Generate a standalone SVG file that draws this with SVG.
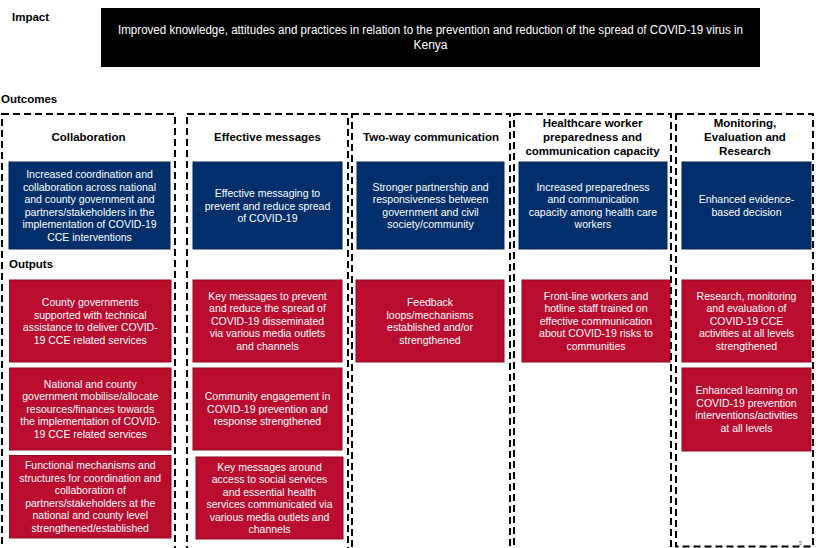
<svg xmlns="http://www.w3.org/2000/svg" width="818" height="548" viewBox="0 0 818 548">
  <style>
    .label { font-family: "Liberation Sans", Arial, sans-serif; font-weight: bold; font-size: 11.5px; fill: #000; }
    .head { font-family: "Liberation Sans", Arial, sans-serif; font-weight: bold; font-size: 11.5px; fill: #000; text-anchor: middle; }
    .txt { font-family: "Liberation Sans", Arial, sans-serif; font-size: 10.5px; fill: #fff; text-anchor: middle; }
    .impact-txt { font-family: "Liberation Sans", Arial, sans-serif; font-size: 12px; fill: #fff; text-anchor: middle; }
    .col { fill: none; stroke: #000; stroke-width: 2; stroke-dasharray: 7 4; }
    .outcome { fill: #002F6C; stroke: #0B2550; stroke-width: 1; }
    .output { fill: #BA0C2F; stroke: #8C0A24; stroke-width: 1; }
  </style>

  <rect width="818" height="548" fill="#fff"/>

  <!-- Section labels -->
  <text class="label" x="12" y="21">Impact</text>
  <text class="label" x="1" y="103">Outcomes</text>
  <text class="label" x="9" y="268">Outputs</text>

  <!-- Impact statement -->
  <g id="impact">
    <rect x="101" y="8" width="659" height="59" fill="#000"/>
    <text class="impact-txt" x="430.5" y="34" textLength="625" lengthAdjust="spacingAndGlyphs">Improved knowledge, attitudes and practices in relation to the prevention and reduction of the spread of COVID-19 virus in</text>
    <text class="impact-txt" x="430.5" y="49">Kenya</text>
  </g>

  <!-- Dashed column frames -->
  <g id="columns">
    <rect class="col" x="2" y="114" width="173" height="460"/>
    <rect class="col" x="187" y="114" width="161" height="460"/>
    <rect class="col" x="352" y="114" width="158" height="460"/>
    <rect class="col" x="514" y="114" width="157" height="460"/>
    <rect class="col" x="676" y="114" width="137" height="432.5"/>
  </g>

  <!-- Column headings -->
  <g id="headings">
    <text class="head" x="88.5" y="140.5">Collaboration</text>
    <text class="head" x="267.5" y="140.5">Effective messages</text>
    <text class="head" x="431" y="140.5">Two-way communication</text>
    <text class="head" x="592.5" y="127">Healthcare worker</text>
    <text class="head" x="592.5" y="141">preparedness and</text>
    <text class="head" x="592.5" y="155">communication capacity</text>
    <text class="head" x="745" y="127">Monitoring,</text>
    <text class="head" x="745" y="141">Evaluation and</text>
    <text class="head" x="745" y="155">Research</text>
  </g>

  <!-- Outcomes -->
  <g id="outcome-collaboration">
    <rect class="outcome" x="9" y="162" width="161" height="87"/>
    <text class="txt" x="89.5" y="178">Increased coordination and</text>
    <text class="txt" x="89.5" y="190.5">collaboration across national</text>
    <text class="txt" x="89.5" y="203">and county government and</text>
    <text class="txt" x="89.5" y="215.5">partners/stakeholders in the</text>
    <text class="txt" x="89.5" y="228">implementation of COVID-19</text>
    <text class="txt" x="89.5" y="240.5">CCE interventions</text>
  </g>
  <g id="outcome-messages">
    <rect class="outcome" x="193" y="162" width="149" height="87"/>
    <text class="txt" x="267.5" y="197.3">Effective messaging to</text>
    <text class="txt" x="267.5" y="209.8">prevent and reduce spread</text>
    <text class="txt" x="267.5" y="222.3">of COVID-19</text>
  </g>
  <g id="outcome-twoway">
    <rect class="outcome" x="357" y="162" width="147" height="87"/>
    <text class="txt" x="430.5" y="190.5">Stronger partnership and</text>
    <text class="txt" x="430.5" y="203">responsiveness between</text>
    <text class="txt" x="430.5" y="215.5">government and civil</text>
    <text class="txt" x="430.5" y="228">society/community</text>
  </g>
  <g id="outcome-healthcare">
    <rect class="outcome" x="519" y="162" width="148" height="87"/>
    <text class="txt" x="593" y="190.5">Increased preparedness</text>
    <text class="txt" x="593" y="203">and communication</text>
    <text class="txt" x="593" y="215.5">capacity among health care</text>
    <text class="txt" x="593" y="228">workers</text>
  </g>
  <g id="outcome-mer">
    <rect class="outcome" x="682" y="162" width="129" height="87"/>
    <text class="txt" x="746.5" y="203">Enhanced evidence-</text>
    <text class="txt" x="746.5" y="215.5">based decision</text>
  </g>

  <!-- Outputs: Collaboration -->
  <g id="output-c1-1">
    <rect class="output" x="9.5" y="280" width="161.5" height="82"/>
    <text class="txt" x="90.25" y="306">County governments</text>
    <text class="txt" x="90.25" y="318.5">supported with technical</text>
    <text class="txt" x="90.25" y="331">assistance to deliver COVID-</text>
    <text class="txt" x="90.25" y="343.5">19 CCE related services</text>
  </g>
  <g id="output-c1-2">
    <rect class="output" x="9.5" y="368" width="161.5" height="82"/>
    <text class="txt" x="90.25" y="387.8">National and county</text>
    <text class="txt" x="90.25" y="400.3">government mobilise/allocate</text>
    <text class="txt" x="90.25" y="412.8">resources/finances towards</text>
    <text class="txt" x="90.25" y="425.3">the implementation of COVID-</text>
    <text class="txt" x="90.25" y="437.8">19 CCE related services</text>
  </g>
  <g id="output-c1-3">
    <rect class="output" x="9.5" y="455.5" width="161.5" height="82.5"/>
    <text class="txt" x="90.25" y="469.3">Functional mechanisms and</text>
    <text class="txt" x="90.25" y="481.8">structures for coordination and</text>
    <text class="txt" x="90.25" y="494.3">collaboration of</text>
    <text class="txt" x="90.25" y="506.8">partners/stakeholders at the</text>
    <text class="txt" x="90.25" y="519.3">national and county level</text>
    <text class="txt" x="90.25" y="531.8">strengthened/established</text>
  </g>

  <!-- Outputs: Effective messages -->
  <g id="output-c2-1">
    <rect class="output" x="193" y="280" width="149" height="82"/>
    <text class="txt" x="267.5" y="299.8">Key messages to prevent</text>
    <text class="txt" x="267.5" y="312.3">and reduce the spread of</text>
    <text class="txt" x="267.5" y="324.8">COVID-19 disseminated</text>
    <text class="txt" x="267.5" y="337.3">via various media outlets</text>
    <text class="txt" x="267.5" y="349.8">and channels</text>
  </g>
  <g id="output-c2-2">
    <rect class="output" x="193" y="368" width="149" height="82"/>
    <text class="txt" x="267.5" y="400.3">Community engagement in</text>
    <text class="txt" x="267.5" y="412.8">COVID-19 prevention and</text>
    <text class="txt" x="267.5" y="425.3">response strengthened</text>
  </g>
  <g id="output-c2-3">
    <rect class="output" x="196" y="457" width="147" height="82"/>
    <text class="txt" x="269.5" y="470.5">Key messages around</text>
    <text class="txt" x="269.5" y="483">access to social services</text>
    <text class="txt" x="269.5" y="495.5">and essential health</text>
    <text class="txt" x="269.5" y="508">services communicated via</text>
    <text class="txt" x="269.5" y="520.5">various media outlets and</text>
    <text class="txt" x="269.5" y="533">channels</text>
  </g>

  <!-- Outputs: Two-way communication -->
  <g id="output-c3-1">
    <rect class="output" x="356" y="280" width="148" height="82"/>
    <text class="txt" x="430" y="306">Feedback</text>
    <text class="txt" x="430" y="318.5">loops/mechanisms</text>
    <text class="txt" x="430" y="331">established and/or</text>
    <text class="txt" x="430" y="343.5">strengthened</text>
  </g>

  <!-- Outputs: Healthcare worker preparedness -->
  <g id="output-c4-1">
    <rect class="output" x="522" y="280" width="148" height="82"/>
    <text class="txt" x="596" y="299.8">Front-line workers and</text>
    <text class="txt" x="596" y="312.3">hotline staff trained on</text>
    <text class="txt" x="596" y="324.8">effective communication</text>
    <text class="txt" x="596" y="337.3">about COVID-19 risks to</text>
    <text class="txt" x="596" y="349.8">communities</text>
  </g>

  <!-- Outputs: Monitoring, Evaluation and Research -->
  <g id="output-c5-1">
    <rect class="output" x="682" y="280" width="129" height="82"/>
    <text class="txt" x="746.5" y="299.8">Research, monitoring</text>
    <text class="txt" x="746.5" y="312.3">and evaluation of</text>
    <text class="txt" x="746.5" y="324.8">COVID-19 CCE</text>
    <text class="txt" x="746.5" y="337.3">activities at all levels</text>
    <text class="txt" x="746.5" y="349.8">strengthened</text>
  </g>
  <g id="output-c5-2">
    <rect class="output" x="682" y="368" width="129" height="83"/>
    <text class="txt" x="746.5" y="394.3">Enhanced learning on</text>
    <text class="txt" x="746.5" y="406.8">COVID-19 prevention</text>
    <text class="txt" x="746.5" y="419.3">interventions/activities</text>
    <text class="txt" x="746.5" y="431.8">at all levels</text>
  </g>

  <!-- Page number -->
  <text x="799" y="545" font-family="Liberation Sans, Arial, sans-serif" font-size="5" fill="#555">5</text>
</svg>
